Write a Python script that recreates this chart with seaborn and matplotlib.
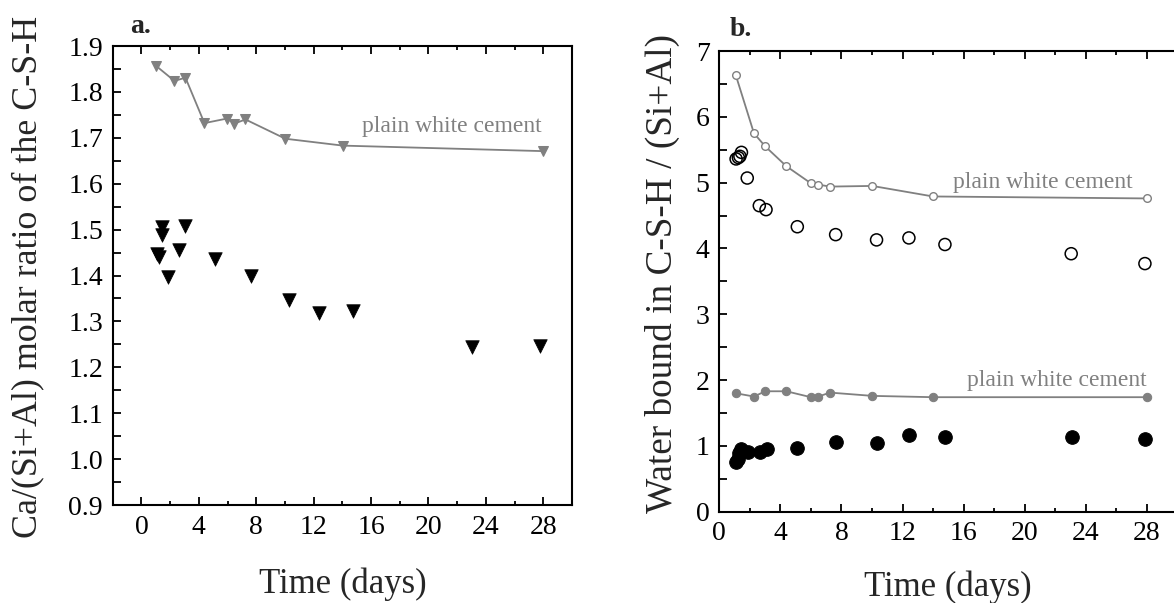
import numpy as np
import pandas as pd
import matplotlib
matplotlib.use("Agg")
import matplotlib.pyplot as plt
import seaborn as sns
from matplotlib.ticker import MultipleLocator

# panel a: Ca/(Si+Al) ratio
a_ref_days = [1.05, 2.3, 3.07, 4.39, 5.97, 6.48, 7.25, 10.03, 14.03, 27.97]
a_ref_ratio = [1.856, 1.824, 1.831, 1.732, 1.742, 1.731, 1.740, 1.698, 1.683, 1.671]
a_days = [1.44, 1.44, 1.1, 1.2, 1.86, 3.07, 2.65, 5.1, 7.64, 10.27, 12.4, 14.77, 23.04, 27.8]
a_ratio = [1.505, 1.489, 1.447, 1.440, 1.397, 1.508, 1.455, 1.435, 1.399, 1.346, 1.319, 1.322, 1.244, 1.246]

# panel b: bound water
b_ref_days = [1.07, 2.27, 3.01, 4.39, 6.0, 6.49, 7.25, 10.02, 14.0, 28.0]
b_ref_water_top = [6.64, 5.75, 5.55, 5.25, 4.99, 4.97, 4.94, 4.95, 4.79, 4.76]
b_ref_water_low = [1.80, 1.75, 1.83, 1.83, 1.74, 1.75, 1.81, 1.76, 1.74, 1.74]

b_open_days = [1.1, 1.25, 1.35, 1.45, 1.83, 2.62, 3.06, 5.11, 7.62, 10.3, 12.42, 14.78, 23.05, 27.88]
b_open_water = [5.36, 5.38, 5.40, 5.46, 5.07, 4.65, 4.59, 4.33, 4.21, 4.13, 4.16, 4.06, 3.92, 3.77]
b_fill_days = [1.09, 1.2, 1.31, 1.42, 1.9, 2.67, 3.1, 5.11, 7.62, 10.3, 12.42, 14.78, 23.1, 27.88]
b_fill_water = [0.75, 0.80, 0.89, 0.96, 0.91, 0.91, 0.95, 0.97, 1.06, 1.04, 1.17, 1.14, 1.13, 1.11]

ref_label = "plain white cement"
grey = "#808080"

sns.set_style("ticks")
plt.rcParams['font.family'] = ['Liberation Serif', 'DejaVu Serif']

fig = plt.figure(figsize=(11.74, 6.03), dpi=100)
ax1 = fig.add_axes([0.096, 0.1625, 0.3912, 0.7612])
ax2 = fig.add_axes([0.6127, 0.1514, 0.3901, 0.764])


def style_axis(ax):
    for s in ax.spines.values():
        s.set_linewidth(1.5)
        s.set_color("black")
    ax.tick_params(axis='both', which='both', direction='in', width=1.3,
                   labelsize=20, pad=7, colors='black')
    ax.tick_params(axis='x', which='major', length=6, top=True)
    ax.tick_params(axis='x', which='minor', length=3, top=True)
    ax.tick_params(axis='y', which='both', length=6)


# ---- panel a ----
sns.lineplot(x=a_ref_days, y=a_ref_ratio, ax=ax1, color=grey, lw=1.3,
             marker='v', markersize=7.5, markeredgecolor=grey, sort=False)
sns.scatterplot(x=a_days, y=a_ratio, ax=ax1, color='black', marker='v',
                s=95, edgecolor='black', linewidth=0.5, zorder=3)
ax1.set_xlim(-2, 30)
ax1.set_ylim(0.9, 1.9)
ax1.xaxis.set_major_locator(MultipleLocator(4))
ax1.xaxis.set_minor_locator(MultipleLocator(2))
ax1.yaxis.set_major_locator(MultipleLocator(0.1))
ax1.yaxis.set_minor_locator(MultipleLocator(0.05))
ax1.yaxis.set_major_formatter(matplotlib.ticker.FormatStrFormatter('%.1f'))
style_axis(ax1)
ax1.set_xlabel("Time (days)", fontsize=25, labelpad=20)
ax1.set_ylabel("Ca/(Si+Al) molar ratio of the C-S-H", fontsize=25.8)
ax1.yaxis.set_label_coords(-0.148, 0.497)
ax1.text(21.6, 1.724, ref_label, color=grey, fontsize=17, ha='center', va='center')

# ---- panel b ----
sns.lineplot(x=b_ref_days, y=b_ref_water_top, ax=ax2, color=grey, lw=1.3,
             marker='o', markersize=5.5, markerfacecolor='white',
             markeredgecolor=grey, markeredgewidth=1.0, sort=False)
sns.lineplot(x=b_ref_days, y=b_ref_water_low, ax=ax2, color=grey, lw=1.3,
             marker='o', markersize=6, markerfacecolor=grey,
             markeredgecolor=grey, sort=False)
sns.scatterplot(x=b_open_days, y=b_open_water, ax=ax2, marker='o', s=75,
                facecolor='none', edgecolor='black', linewidth=1.1, zorder=3)
sns.scatterplot(x=b_fill_days, y=b_fill_water, ax=ax2, marker='o', s=95,
                color='black', edgecolor='black', zorder=3)
ax2.set_xlim(0, 30)
ax2.set_ylim(0, 7)
ax2.xaxis.set_major_locator(MultipleLocator(4))
ax2.xaxis.set_minor_locator(MultipleLocator(2))
ax2.yaxis.set_major_locator(MultipleLocator(1))
ax2.yaxis.set_minor_locator(MultipleLocator(0.5))
style_axis(ax2)
ax2.set_xlabel("Time (days)", fontsize=25, labelpad=17)
ax2.set_ylabel("Water bound in C-S-H / (Si+Al)", fontsize=26.8)
ax2.yaxis.set_label_coords(-0.086, 0.516)
ax2.text(21.2, 5.0, ref_label, color=grey, fontsize=17, ha='center', va='center')
ax2.text(22.1, 1.99, ref_label, color=grey, fontsize=17, ha='center', va='center')

fig.text(0.1107, 0.945, "a.", fontsize=20, fontweight='bold', ha='left', va='baseline')
fig.text(0.6218, 0.94, "b.", fontsize=20, fontweight='bold', ha='left', va='baseline')

fig.savefig("out.png", dpi=100)
